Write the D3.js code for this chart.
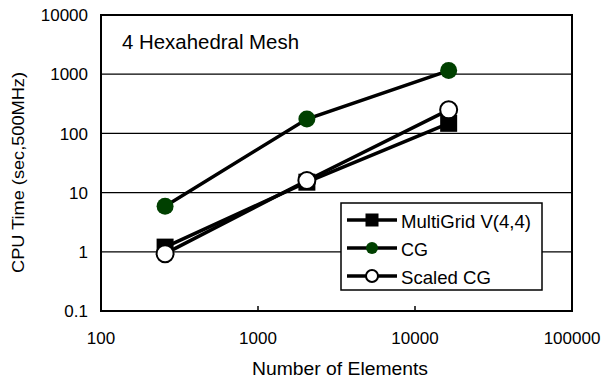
<!DOCTYPE html>
<html>
  <head>
    <style>
      body {
        margin: 0;
        background: #fff;
      }
      svg {
        display: block;
        font-family: "Liberation Sans", Arial, sans-serif;
      }
      .grid line {
        stroke: #000;
        stroke-width: 1.3px;
      }
      .series-line {
        fill: none;
        stroke: #000;
        stroke-width: 3.5px;
      }
    </style>
  </head>
  <body>
    <script src="https://d3js.org/d3.v7.min.js"></script>
    <script>
      // data
      const elements = [256, 2048, 16384];
      const multiGrid = [1.2, 15, 148];
      const cg = [5.9, 175, 1150];
      const scaledCG = [0.93, 16, 250];

      const xTicks = [100, 1000, 10000, 100000];
      const yTicks = [0.1, 1, 10, 100, 1000, 10000];

      const seriesNames = ["MultiGrid V(4,4)", "CG", "Scaled CG"];

      const width = 601,
          height = 378,
          margin = {left: 101, right: 29, top: 15, bottom: 67};

      const svg = d3.select("body").append("svg")
          .attr("width", width)
          .attr("height", height);

      const x = d3.scaleLog()
          .domain([100, 100000])
          .range([margin.left, width - margin.right]);

      const y = d3.scaleLog()
          .domain([0.1, 10000])
          .range([height - margin.bottom, margin.top]);

      // horizontal grid lines
      svg.append("g")
          .attr("class", "grid")
        .selectAll("line")
        .data(yTicks.slice(1, -1))
        .join("line")
          .attr("x1", x.range()[0])
          .attr("x2", x.range()[1])
          .attr("y1", d => y(d))
          .attr("y2", d => y(d));

      // small tick marks on x axis (pointing into the plot)
      svg.append("g")
        .selectAll("line")
        .data(xTicks.slice(1, -1))
        .join("line")
          .attr("x1", d => x(d))
          .attr("x2", d => x(d))
          .attr("y1", y.range()[0])
          .attr("y2", y.range()[0] - 5)
          .attr("stroke", "#000")
          .attr("stroke-width", 1.5);

      // plot frame
      svg.append("rect")
          .attr("x", x.range()[0])
          .attr("y", y.range()[1])
          .attr("width", x.range()[1] - x.range()[0])
          .attr("height", y.range()[0] - y.range()[1])
          .attr("fill", "none")
          .attr("stroke", "#000")
          .attr("stroke-width", 2);

      // tick labels
      svg.append("g")
        .selectAll("text")
        .data(yTicks)
        .join("text")
          .attr("x", margin.left - 13)
          .attr("y", d => y(d))
          .attr("dy", "0.36em")
          .attr("text-anchor", "end")
          .attr("font-size", 17)
          .text(d => d);

      svg.append("g")
        .selectAll("text")
        .data(xTicks)
        .join("text")
          .attr("x", d => x(d))
          .attr("y", y.range()[0] + 33)
          .attr("text-anchor", "middle")
          .attr("font-size", 17)
          .text(d => d);

      // axis titles
      svg.append("text")
          .attr("x", 252)
          .attr("y", 375)
          .attr("font-size", 17.5)
          .attr("textLength", 176)
          .attr("lengthAdjust", "spacingAndGlyphs")
          .text("Number of Elements");

      svg.append("text")
          .attr("transform", "translate(24, 273) rotate(-90)")
          .attr("font-size", 17)
          .attr("textLength", 201)
          .attr("lengthAdjust", "spacingAndGlyphs")
          .text("CPU Time (sec,500MHz)");

      svg.append("text")
          .attr("x", 122)
          .attr("y", 49)
          .attr("font-size", 20.5)
          .attr("textLength", 177)
          .attr("lengthAdjust", "spacingAndGlyphs")
          .text("4 Hexahedral Mesh");

      const line = d3.line()
          .x(d => x(d[0]))
          .y(d => y(d[1]));

      const series = [
        {name: seriesNames[0], values: multiGrid, shape: "square", fill: "#000"},
        {name: seriesNames[1], values: cg, shape: "circle", fill: "#004000"},
        {name: seriesNames[2], values: scaledCG, shape: "circle", fill: "#fff"}
      ];

      function drawMarker(g, shape, fill, size){
        if (shape === "square"){
          g.append("rect")
              .attr("x", -size / 2)
              .attr("y", -size / 2)
              .attr("width", size)
              .attr("height", size)
              .attr("fill", fill);
        }
        else {
          g.append("circle")
              .attr("r", size / 2)
              .attr("fill", fill)
              .attr("stroke", fill === "#fff" ? "#000" : "none")
              .attr("stroke-width", 2);
        }
      }

      series.forEach(s => {
        const pts = elements.map((e, i) => [e, s.values[i]]);
        svg.append("path")
            .attr("class", "series-line")
            .attr("d", line(pts));
        pts.forEach(p => {
          const g = svg.append("g")
              .attr("transform", `translate(${x(p[0])},${y(p[1])})`);
          drawMarker(g, s.shape, s.fill, 17);
        });
      });

      // legend
      const legend = svg.append("g");
      legend.append("rect")
          .attr("x", 341)
          .attr("y", 203)
          .attr("width", 201)
          .attr("height", 87)
          .attr("fill", "#fff")
          .attr("stroke", "#000")
          .attr("stroke-width", 1.5);

      const legendWidths = [130, 27, 90];

      series.forEach((s, i) => {
        const ly = 220 + i * 28;
        legend.append("line")
            .attr("x1", 347)
            .attr("x2", 397)
            .attr("y1", ly)
            .attr("y2", ly)
            .attr("stroke", "#000")
            .attr("stroke-width", 3.5);
        const g = legend.append("g")
            .attr("transform", `translate(372,${ly})`);
        drawMarker(g, s.shape, s.fill, s.shape === "square" ? 13 : 12);
        legend.append("text")
            .attr("x", 401)
            .attr("y", ly + 8)
            .attr("font-size", 19)
            .attr("textLength", legendWidths[i])
            .attr("lengthAdjust", "spacingAndGlyphs")
            .text(s.name);
      });
    </script>
  </body>
</html>
